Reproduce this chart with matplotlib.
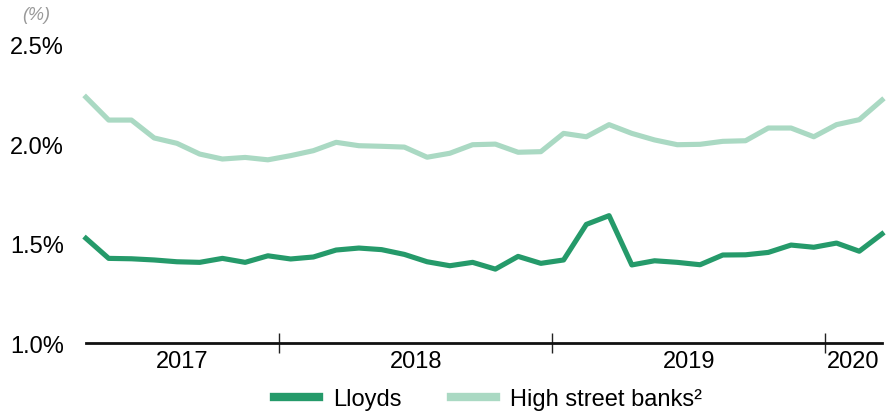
import numpy as np
import pandas as pd
import matplotlib.pyplot as plt

plt.rcParams['font.family'] = ['Liberation Sans', 'DejaVu Sans']

# monthly data, Apr 2017 .. Mar 2020
months = pd.date_range('2017-04-01', periods=36, freq='MS')

lloyds = [1.527, 1.426, 1.424, 1.418, 1.409, 1.406, 1.426, 1.406, 1.439, 1.423,
          1.433, 1.468, 1.478, 1.470, 1.446, 1.409, 1.389, 1.406, 1.372, 1.436,
          1.401, 1.418, 1.597, 1.641, 1.393, 1.414, 1.406, 1.394, 1.443, 1.444,
          1.456, 1.493, 1.482, 1.503, 1.462, 1.549]

high_street = [2.237, 2.122, 2.122, 2.032, 2.005, 1.951, 1.926, 1.934, 1.922, 1.943,
               1.968, 2.010, 1.993, 1.990, 1.986, 1.935, 1.955, 1.998, 2.001, 1.960,
               1.963, 2.055, 2.038, 2.099, 2.055, 2.022, 1.998, 2.000, 2.015, 2.018,
               2.082, 2.082, 2.038, 2.099, 2.124, 2.223]

y_ticks = [1.0, 1.5, 2.0, 2.5]

col_lloyds = '#259a6a'
col_hsb = '#aad9c3'

fig = plt.figure(figsize=(8.86, 4.14), dpi=100)
ax = fig.add_axes([0.097, 0.169, 0.8985, 0.72])

x = np.arange(len(months))
ax.plot(x, lloyds, color=col_lloyds, lw=3.7, label='Lloyds', clip_on=False, zorder=3)
ax.plot(x, high_street, color=col_hsb, lw=3.7, label='High street banks\u00b2', clip_on=False, zorder=2)

ax.set_xlim(0, len(months) - 1)
ax.set_ylim(1.0, 2.5)

# y axis
ax.set_yticks(y_ticks)
ax.set_yticklabels([f'{v:.1f}%' for v in y_ticks], fontsize=17)
ax.tick_params(axis='y', length=0, pad=16)

# x axis: year boundaries as major ticks, year names centred between them
years = months.year.values
bounds = [i + 0.5 for i in range(len(years) - 1) if years[i + 1] != years[i]]
edges = [0] + bounds + [len(years) - 1]
centers = [(edges[i] + edges[i + 1]) / 2 for i in range(len(edges) - 1)]
ax.set_xticks(bounds)
ax.set_xticklabels([])
ax.tick_params(axis='x', which='major', direction='inout', length=14, width=1, color='#222222')
ax.set_xticks(centers, minor=True)
ax.set_xticklabels([str(y) for y in sorted(set(years))], minor=True, fontsize=17)
ax.tick_params(axis='x', which='minor', length=0, pad=5)

for side in ['left', 'right', 'top']:
    ax.spines[side].set_visible(False)
ax.spines['bottom'].set_linewidth(2)
ax.spines['bottom'].set_color('#111111')

fig.text(0.025, 0.962, '(%)', fontsize=13, style='italic', color='#999999', va='center')

fig.legend(loc='center', bbox_to_anchor=(0.551, 0.034), ncol=2, frameon=False,
           fontsize=17, handlelength=1.9, handletextpad=0.6, columnspacing=2.1,
           borderaxespad=0)
for h in fig.legends[0].get_lines():
    h.set_linewidth(6)

fig.savefig('out.png', dpi=100)
